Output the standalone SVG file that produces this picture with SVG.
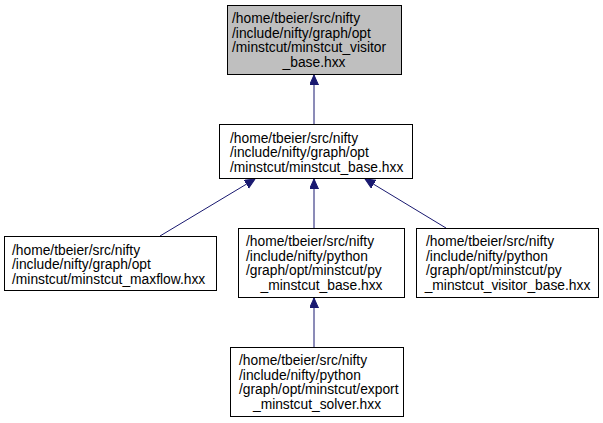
<svg xmlns="http://www.w3.org/2000/svg" width="603" height="423" viewBox="0 0 603 423">
<style>
.box{fill:#ffffff;stroke:#000000;stroke-width:1}
.cur{fill:#bfbfbf}
text{font-family:"Liberation Sans",Arial,Helvetica,sans-serif;font-size:13.8px;fill:#000000}
.edge{stroke:#191970;stroke-width:1;fill:none}
.head{fill:#191970;stroke:#191970}
</style>
<defs>
<marker id="ah" markerWidth="12" markerHeight="10" refX="10" refY="4.5" orient="auto" markerUnits="userSpaceOnUse">
<path d="M0,0 L10,4.5 L0,9 Z" class="head"/>
</marker>
</defs>
<g id="connectors">
<line class="edge" x1="160" y1="236" x2="255" y2="179" marker-end="url(#ah)"/>
<line class="edge" x1="314" y1="124" x2="314" y2="75" marker-end="url(#ah)"/>
<line class="edge" x1="314" y1="228" x2="314" y2="179" marker-end="url(#ah)"/>
<line class="edge" x1="446" y1="228" x2="365" y2="179" marker-end="url(#ah)"/>
<line class="edge" x1="314" y1="347" x2="314" y2="298" marker-end="url(#ah)"/>
</g>
<g id="node1">
<rect class="box cur" x="227.5" y="5.5" width="174" height="69"/>
<text x="232" y="23">/home/tbeier/src/nifty</text>
<text x="232" y="37.5">/include/nifty/graph/opt</text>
<text x="232" y="52">/minstcut/minstcut_visitor</text>
<text x="314" y="66.5" text-anchor="middle">_base.hxx</text>
</g>
<g id="node2">
<rect class="box" x="219.5" y="124.5" width="193" height="54"/>
<text x="230" y="142.5">/home/tbeier/src/nifty</text>
<text x="230" y="157">/include/nifty/graph/opt</text>
<text x="230" y="171.5">/minstcut/minstcut_base.hxx</text>
</g>
<g id="node3">
<rect class="box" x="4.5" y="236.5" width="212" height="54"/>
<text x="12" y="254.5">/home/tbeier/src/nifty</text>
<text x="12" y="269">/include/nifty/graph/opt</text>
<text x="12" y="283.5">/minstcut/minstcut_maxflow.hxx</text>
</g>
<g id="node4">
<rect class="box" x="238.5" y="228.5" width="166" height="69"/>
<text x="246" y="246">/home/tbeier/src/nifty</text>
<text x="246" y="260.5">/include/nifty/python</text>
<text x="246" y="275">/graph/opt/minstcut/py</text>
<text x="321.5" y="289.5" text-anchor="middle">_minstcut_base.hxx</text>
</g>
<g id="node5">
<rect class="box" x="416.5" y="228.5" width="182" height="69"/>
<text x="426" y="246">/home/tbeier/src/nifty</text>
<text x="426" y="260.5">/include/nifty/python</text>
<text x="426" y="275">/graph/opt/minstcut/py</text>
<text x="507.5" y="289.5" text-anchor="middle">_minstcut_visitor_base.hxx</text>
</g>
<g id="node6">
<rect class="box" x="230.5" y="347.5" width="173" height="69"/>
<text x="239" y="365">/home/tbeier/src/nifty</text>
<text x="239" y="379.5">/include/nifty/python</text>
<text x="239" y="394">/graph/opt/minstcut/export</text>
<text x="317" y="408.5" text-anchor="middle">_minstcut_solver.hxx</text>
</g>
</svg>
